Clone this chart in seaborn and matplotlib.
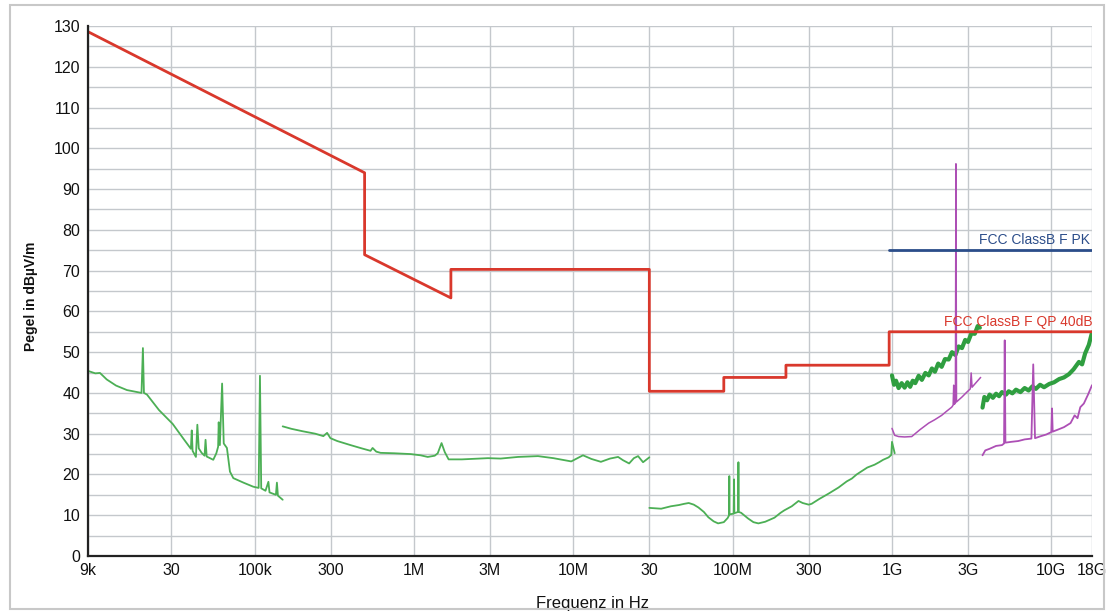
import matplotlib
matplotlib.use("Agg")
import matplotlib.pyplot as plt
import seaborn as sns
import pandas as pd
from matplotlib.patches import Rectangle
from matplotlib.ticker import FixedLocator, NullLocator

# limit lines
qp_freq = [9e3, 490e3, 490e3, 1.705e6, 1.705e6, 30e6, 30e6, 88e6, 88e6, 216e6, 216e6, 960e6, 960e6, 18e9]
qp_level = [128.6, 94.0, 73.9, 63.3, 70.3, 70.3, 40.4, 40.4, 43.8, 43.8, 46.8, 46.8, 55.0, 55.0]
pk_freq = [960e6, 18e9]
pk_level = [75.0, 75.0]

# measured traces, 9 kHz - 150 kHz
seg1_freq = [9.0e3, 10.0e3, 10.7e3, 11.8e3, 13.5e3, 15.8e3, 19.5e3, 19.9e3, 20.2e3, 21.1e3,
             25.1e3, 30.6e3, 36e3, 39.8e3, 40.3e3, 40.8e3, 42.8e3, 43.7e3, 44.6e3, 46.5e3,
             48.5e3, 49.2e3, 50e3, 55e3, 57.5e3, 59e3, 59.5e3, 60.5e3, 62.5e3, 64e3,
             67e3, 70e3, 73.5e3, 85e3, 98e3, 106e3, 108e3, 110e3, 117e3, 122e3,
             124e3, 136e3, 138e3, 140e3, 150e3]
seg1_level = [45.4, 44.8, 44.9, 43.3, 41.8, 40.7, 40.0, 51.0, 40.0, 39.6,
              35.8, 32.4, 28.6, 26.3, 30.8, 25.8, 24.3, 32.2, 26.4, 25.3,
              24.6, 28.5, 24.4, 23.6, 25.2, 26.8, 32.8, 27.2, 42.3, 27.6,
              26.5, 20.7, 19.1, 18.0, 17.0, 16.7, 44.2, 16.6, 16.0, 18.2,
              15.6, 15.0, 18.0, 14.8, 13.8]

# 150 kHz - 30 MHz
seg2_freq = [150e3, 170e3, 200e3, 240e3, 270e3, 285e3, 299e3, 330e3, 400e3, 470e3,
             534e3, 550e3, 580e3, 617e3, 750e3, 954e3, 1.1e6, 1.22e6, 1.35e6, 1.41e6,
             1.49e6, 1.56e6, 1.65e6, 2.0e6, 2.91e6, 3.5e6, 4.5e6, 6.0e6, 7.5e6, 9.7e6,
             11.5e6, 13e6, 14.9e6, 17e6, 19.1e6, 20.5e6, 22.4e6, 24e6, 25.5e6, 27.4e6, 30e6]
seg2_level = [31.8, 31.2, 30.6, 30.0, 29.4, 30.2, 28.9, 28.2, 27.2, 26.4,
              25.8, 26.5, 25.6, 25.3, 25.2, 25.0, 24.7, 24.3, 24.6, 25.2,
              27.7, 25.5, 23.7, 23.7, 24.0, 23.9, 24.3, 24.5, 24.0, 23.2,
              24.7, 23.8, 23.1, 23.9, 24.3, 23.5, 22.7, 24.0, 24.5, 23.0, 24.2]

# 30 MHz - 1 GHz
seg3_freq = [30e6, 35.6e6, 41e6, 46e6, 49.7e6, 53e6, 57e6, 61e6, 66e6, 70.4e6,
             76e6, 81e6, 88e6, 93e6, 95e6, 95.3e6, 95.6e6, 101.5e6, 102e6, 102.5e6,
             108.2e6, 108.7e6, 109.2e6, 113e6, 125e6, 135e6, 145e6, 160e6, 183e6, 200e6,
             211e6, 235e6, 259e6, 275e6, 300e6, 313e6, 350e6, 400e6, 462e6, 520e6,
             560e6, 600e6, 645e6, 700e6, 778e6, 830e6, 880e6, 953e6, 990e6, 1.0e9, 1.04e9]
seg3_level = [11.8, 11.6, 12.2, 12.5, 12.8, 13.0, 12.6, 11.9, 10.8, 9.5,
              8.5, 8.0, 8.3, 9.3, 10.0, 19.6, 10.2, 10.4, 18.8, 10.5,
              10.8, 23.0, 10.8, 10.6, 9.2, 8.3, 8.0, 8.4, 9.4, 10.6,
              11.2, 12.2, 13.5, 13.0, 12.6, 12.8, 14.0, 15.3, 16.8, 18.3,
              19.0, 20.0, 20.8, 21.7, 22.4, 23.0, 23.6, 24.2, 24.8, 28.0, 25.2]

# 1 GHz - 3.5 GHz peak
seg4_freq = [1.0e9, 1.03e9, 1.06e9, 1.1e9, 1.15e9, 1.2e9, 1.25e9, 1.3e9, 1.35e9, 1.4e9,
             1.47e9, 1.54e9, 1.62e9, 1.7e9, 1.78e9, 1.86e9, 1.95e9, 2.05e9, 2.15e9, 2.27e9,
             2.38e9, 2.5e9, 2.62e9, 2.75e9, 2.88e9, 3.0e9, 3.15e9, 3.31e9, 3.45e9, 3.56e9]
seg4_level = [44.3, 42.0, 43.0, 41.2, 42.4, 41.3, 42.6, 41.5, 43.0, 42.4,
              44.2, 43.2, 44.9, 44.3, 46.0, 45.2, 47.2, 46.4, 48.3, 48.2,
              50.0, 49.3, 51.4, 51.0, 53.0, 52.5, 54.6, 54.5, 56.4, 56.0]

# 1 GHz - 3.6 GHz average
seg5_freq = [1.0e9, 1.04e9, 1.1e9, 1.2e9, 1.33e9, 1.5e9, 1.7e9, 1.85e9, 2.05e9, 2.2e9,
             2.37e9, 2.42e9, 2.44e9, 2.46e9, 2.5e9, 2.52e9, 2.54e9, 2.75e9, 2.95e9, 3.1e9,
             3.14e9, 3.18e9, 3.4e9, 3.6e9]
seg5_level = [31.3, 29.6, 29.3, 29.2, 29.3, 31.0, 32.6, 33.4, 34.5, 35.5,
              36.5, 37.0, 41.9, 37.2, 37.5, 96.2, 37.8, 39.0, 40.2, 41.0,
              44.9, 41.4, 42.7, 43.8]

# 3.7 GHz - 18 GHz peak
seg6_freq = [3.7e9, 3.8e9, 3.95e9, 4.1e9, 4.3e9, 4.5e9, 4.7e9, 4.9e9, 5.2e9, 5.4e9,
             5.7e9, 6.0e9, 6.4e9, 6.8e9, 7.2e9, 7.6e9, 8.0e9, 8.5e9, 9.0e9, 9.7e9,
             10.4e9, 11.2e9, 12.0e9, 12.9e9, 13.8e9, 14.9e9, 15.6e9, 16.3e9, 17.2e9, 18e9]
seg6_level = [36.4, 39.0, 38.2, 39.6, 38.8, 39.8, 39.2, 40.2, 39.6, 40.4,
              39.9, 40.8, 40.2, 41.2, 40.6, 41.6, 41.0, 42.0, 41.4, 42.2,
              42.6, 43.4, 43.8, 44.6, 45.8, 47.6, 47.0, 49.7, 51.8, 54.8]

# 3.7 GHz - 18 GHz average
seg7_freq = [3.7e9, 3.85e9, 4.1e9, 4.5e9, 4.9e9, 5.05e9, 5.1e9, 5.15e9, 5.6e9, 6.2e9,
             6.8e9, 7.5e9, 7.7e9, 7.9e9, 8.6e9, 9.3e9, 10.0e9, 10.1e9, 10.2e9, 11.0e9,
             12.0e9, 13.2e9, 14.0e9, 14.6e9, 15.2e9, 16.0e9, 17.0e9, 18e9]
seg7_level = [24.7, 25.9, 26.3, 27.0, 27.2, 27.6, 52.9, 27.8, 28.0, 28.2,
              28.6, 28.8, 47.0, 28.9, 29.4, 29.8, 30.4, 36.2, 30.5, 31.0,
              31.6, 32.6, 34.5, 33.8, 36.5, 37.4, 39.6, 41.9]

xtick_pos = [9e3, 30e3, 100e3, 300e3, 1e6, 3e6, 10e6, 30e6, 100e6, 300e6, 1e9, 3e9, 10e9, 18e9]
xtick_labels = ["9k", "30", "100k", "300", "1M", "3M", "10M", "30", "100M", "300", "1G", "3G", "10G", "18G"]

sns.set_theme(style="white")
plt.rcParams["font.family"] = ["Liberation Sans", "DejaVu Sans"]

fig = plt.figure(figsize=(11.09, 6.12), dpi=100)
ax = fig.add_axes([88 / 1109, 1 - 556 / 612, (1092 - 88) / 1109, (556 - 26) / 612])

green = "#4caf55"
green_dark = "#2f9e40"
purple = "#ad4fb5"

traces = [
    (seg1_freq, seg1_level, green, 1.3),
    (seg2_freq, seg2_level, green, 1.3),
    (seg3_freq, seg3_level, green, 1.3),
    (seg4_freq, seg4_level, green_dark, 3.0),
    (seg5_freq, seg5_level, purple, 1.1),
    (seg6_freq, seg6_level, green_dark, 3.0),
    (seg7_freq, seg7_level, purple, 1.3),
]
for f, lv, c, w in traces:
    df = pd.DataFrame({"freq": f, "level": lv})
    sns.lineplot(data=df, x="freq", y="level", ax=ax, color=c, lw=w,
                 sort=False, estimator=None)

sns.lineplot(x=qp_freq, y=qp_level, ax=ax, color="#d9382c", lw=2.0, sort=False, estimator=None)
sns.lineplot(x=pk_freq, y=pk_level, ax=ax, color="#2b4d8a", lw=2.0, sort=False, estimator=None)

ax.set_xscale("log")
ax.set_xlim(9e3, 18e9)
ax.set_ylim(0, 130)
ax.xaxis.set_major_locator(FixedLocator(xtick_pos))
ax.xaxis.set_minor_locator(NullLocator())
ax.set_xticklabels(xtick_labels)
ax.set_yticks(range(0, 131, 10))
ax.set_yticks(range(5, 131, 10), minor=True)

ax.grid(True, which="major", axis="x", color="#c4c8cc", lw=1.0)
ax.grid(True, which="both", axis="y", color="#c4c8cc", lw=1.0)
ax.tick_params(axis="both", which="both", direction="inout", length=5, width=1.2,
               color="#222222", labelsize=11.5, labelcolor="#111111", pad=3)
ax.tick_params(axis="x", length=4)

for side in ["top", "right"]:
    ax.spines[side].set_visible(False)
for side in ["left", "bottom"]:
    ax.spines[side].set_color("#222222")
    ax.spines[side].set_linewidth(1.6)

ax.set_xlabel("Frequenz in Hz", fontsize=12, color="#111111")
ax.xaxis.set_label_coords((592 - 88) / 1004, (556 - 596) / 530)
ax.set_ylabel("Pegel in dBµV/m", fontsize=10, fontweight="bold", color="#111111")
ax.yaxis.set_label_coords((38 - 88) / 1004, (556 - 296) / 530)

ax.text(17.6e9, 75.8, "FCC ClassB F PK", color="#2b4d8a", fontsize=10,
        ha="right", va="bottom")
ax.text(18.2e9, 55.6, "FCC ClassB F QP 40dB", color="#d9382c", fontsize=10,
        ha="right", va="bottom")

fig.patches.append(Rectangle((10 / 1109, 3 / 612), 1094 / 1109, 604 / 612,
                             transform=fig.transFigure, fill=False,
                             edgecolor="#c8c8c8", lw=1.5))

fig.savefig("out.png", dpi=100)
